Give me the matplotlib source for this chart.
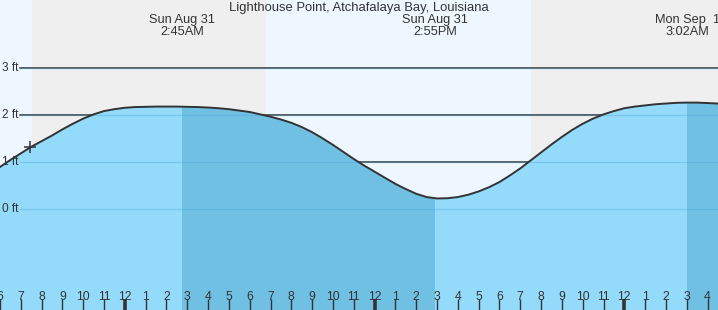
import matplotlib
matplotlib.use("Agg")
import matplotlib.pyplot as plt
from matplotlib.patches import Rectangle
from matplotlib.transforms import blended_transform_factory

# ---- data (hours relative to Sun Aug 31 00:00, heights in ft) ----
hours = [-6, -5.5, -5, -4.5, -4, -3.5, -3, -2.5, -2, -1.5, -1, -0.5,
         0, 0.5, 1, 1.5, 2, 2.5, 3, 3.5, 4, 4.5, 5, 5.5,
         6, 6.5, 7, 7.5, 8, 8.5, 9, 9.5, 10, 10.5, 11, 11.5,
         12, 12.5, 13, 13.5, 14, 14.5, 15, 15.5, 16, 16.5, 17, 17.5,
         18, 18.5, 19, 19.5, 20, 20.5, 21, 21.5, 22, 22.5, 23, 23.5,
         24, 24.5, 25, 25.5, 26, 26.5, 27, 27.5, 28, 28.5]
heights = [0.90, 1.05, 1.19, 1.33, 1.45, 1.57, 1.70, 1.82, 1.93, 2.02, 2.09, 2.13,
           2.16, 2.175, 2.18, 2.185, 2.185, 2.185, 2.18, 2.175, 2.165, 2.15, 2.13, 2.10,
           2.07, 2.02, 1.97, 1.91, 1.84, 1.75, 1.64, 1.51, 1.37, 1.22, 1.07, 0.93,
           0.80, 0.67, 0.54, 0.43, 0.33, 0.26, 0.23, 0.235, 0.26, 0.31, 0.38, 0.47,
           0.58, 0.72, 0.87, 1.04, 1.21, 1.38, 1.54, 1.69, 1.82, 1.93, 2.02, 2.09,
           2.15, 2.185, 2.21, 2.235, 2.25, 2.265, 2.27, 2.27, 2.26, 2.25]

extreme_times = [2.75, 14.917, 27.033]
extreme_days = ["Sun Aug 31", "Sun Aug 31", "Mon Sep  1"]
extreme_clock = ["2:45AM", "2:55PM", "3:02AM"]
falling_periods = [(2.75, 14.917), (27.033, 30.0)]

night_periods = [(-4.48, 6.77), (19.52, 30.0)]

now_time = -4.58
now_height = 1.33

grid_levels = [0, 1, 2, 3]
tick_hours = list(range(-6, 29))
tick_labels = [str(h % 12 if h % 12 else 12) for h in tick_hours]

title = "Lighthouse Point, Atchafalaya Bay, Louisiana"

# ---- style ----
plt.rcParams['font.family'] = ['Liberation Sans', 'DejaVu Sans']
TXT = '#333333'
W, H = 718, 310

fig = plt.figure(figsize=(W / 100, H / 100), dpi=100)
ax = fig.add_axes([0, 0, 1, 1])
ax.set_xlim(-6, 28.5)
ax.set_ylim(-2.143, 4.453)
ax.set_facecolor('#eef7ff')
for s in ax.spines.values():
    s.set_visible(False)

for a, b in night_periods:
    ax.axvspan(a, b, color='#efefef', zorder=0, lw=0)

for lv in grid_levels:
    ax.axhline(lv, xmin=20 / W, color=TXT, lw=1.1, zorder=1)

ax.fill_between(hours, heights, -3, color='#94dbfb', lw=0, zorder=2)
for a, b in falling_periods:
    poly = ax.fill_between(hours, heights, -3, color='#70c0e4', lw=0, zorder=3)
    poly.set_clip_path(Rectangle((a, -3), b - a, 10, transform=ax.transData))

for lv in grid_levels:
    ax.axhline(lv, xmin=20 / W, color='#4aa3d6', alpha=0.35, lw=1.0, zorder=4)

ax.plot(hours, heights, color=TXT, lw=1.4, zorder=5, solid_joinstyle='round')
ax.plot([now_time], [now_height], marker='+', ms=9, mew=1.1, color=TXT, zorder=6)

trans_y = blended_transform_factory(ax.transAxes, ax.transData)
for lv in grid_levels:
    ax.text(19 / W, lv, f"{lv} ft", transform=trans_y, ha='right', va='center',
            fontsize=8.6, color=TXT, zorder=7)

trans_x = blended_transform_factory(ax.transData, ax.transAxes)
for t, d, c in zip(extreme_times, extreme_days, extreme_clock):
    ax.text(t, 1 - 20 / H, d, transform=trans_x, ha='center', va='center',
            fontsize=9.2, color=TXT, zorder=7)
    ax.text(t, 1 - 32 / H, c, transform=trans_x, ha='center', va='center',
            fontsize=9.2, color=TXT, zorder=7)

fig.text(0.5, 1 - 8 / H, title, ha='center', va='center', fontsize=9.4, color=TXT)

ax.set_yticks([])
ax.set_xticks(tick_hours)
ax.set_xticklabels(tick_labels)
ax.tick_params(axis='x', direction='in', length=8, width=1, pad=-13.5,
               labelsize=8.8, colors=TXT)
ax.xaxis.set_zorder(10)
for tk, h in zip(ax.xaxis.get_major_ticks(), tick_hours):
    if h % 12 == 0:
        tk.tick1line.set_markeredgewidth(2.6)

fig.savefig("out.png", dpi=100)
